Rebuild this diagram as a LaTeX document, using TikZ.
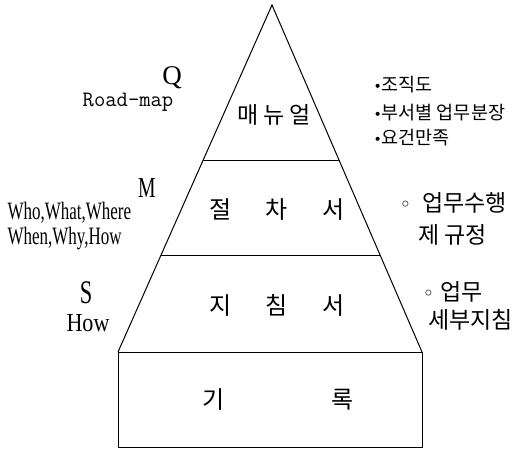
\documentclass[tikz,border=0pt]{standalone}
\usepackage{fontspec}
\setmainfont{Liberation Serif}
\newfontfamily\krfont{Noto Sans CJK KR}
\newfontfamily\narrowfont[FakeStretch=0.68]{Liberation Serif}
\newfontfamily\semifont[FakeStretch=0.85]{Liberation Serif}
\newfontfamily\dotfont{DejaVu Sans}
\newcommand{\fsz}[1]{\fontsize{#1pt}{#1pt}\selectfont}
\usetikzlibrary{calc}

\begin{document}
\begin{tikzpicture}[
  x=1pt, y=-1pt,
  line width=1pt,
  lvl/.style={font=\krfont\fsz{24}, inner sep=0pt},
  note/.style={font=\krfont\fsz{18.5}, inner sep=0pt, anchor=west},
  bignote/.style={font=\krfont\fsz{23}, inner sep=0pt, anchor=west},
  tag/.style={inner sep=0pt, anchor=base},
]
\useasboundingbox (0,0) rectangle (522,449);
\coordinate (apex) at (272,5);
\coordinate (bl) at (118,352);
\coordinate (br) at (422,352);
\coordinate (rbl) at (118,447);
\coordinate (rbr) at (422,447);
\coordinate (l1) at ($(apex)!0.4467!(bl)$);
\coordinate (r1) at ($(apex)!0.4467!(br)$);
\coordinate (l2) at ($(apex)!0.7205!(bl)$);
\coordinate (r2) at ($(apex)!0.7205!(br)$);
\draw (bl) -- (apex) -- (br);
\draw (l1) -- (r1);
\draw (l2) -- (r2);
\draw (bl) -- (br) -- (rbr) -- (rbl) -- cycle;
% levels
\node[lvl, font=\krfont\fsz{23}] (manual) at (274,115) {매 뉴 얼};
\node[lvl] (proc) at (277,210) {절\hspace{34pt}차\hspace{34pt}서};
\node[lvl] (guide) at (277,305) {지\hspace{34pt}침\hspace{34pt}서};
\node[lvl] (record) at (278,400) {기\hspace{106pt}록};
% left side
\node[tag, font=\fsz{27}] (q) at (172,85) {Q};
\node[tag, font=\ttfamily\fsz{22}] (roadmap) at (128,107) {Road-map};
\node[tag, font=\narrowfont\fsz{29}] (m) at (147,198) {M};
\node[tag, anchor=base west, font=\narrowfont\fsz{25}] (who) at (7,220) {Who,What,Where};
\node[tag, anchor=base west, font=\narrowfont\fsz{25}] (when) at (7,244) {When,Why,How};
\node[tag, font=\narrowfont\fsz{33}] (s) at (86,303) {S};
\node[tag, font=\semifont\fsz{26}] (how) at (88,331) {How};
% right side
\node[note] (org) at (373,85) {{\dotfont\fsz{14}•}조직도};
\node[note] (dept) at (373,113) {{\dotfont\fsz{14}•}부서별 업무분장};
\node[note] (req) at (373,138) {{\dotfont\fsz{14}•}요건만족};
\node[bignote] (task) at (399,203) {{\dotfont\fsz{20}◦}\hspace{11pt}업무수행};
\node[bignote] (rule) at (418,235) {제 규정};
\node[bignote] (work) at (422,292) {{\dotfont\fsz{20}◦}\hspace{6pt}업무};
\node[bignote] (detail) at (428,320) {세부지침};
\end{tikzpicture}
\end{document}
